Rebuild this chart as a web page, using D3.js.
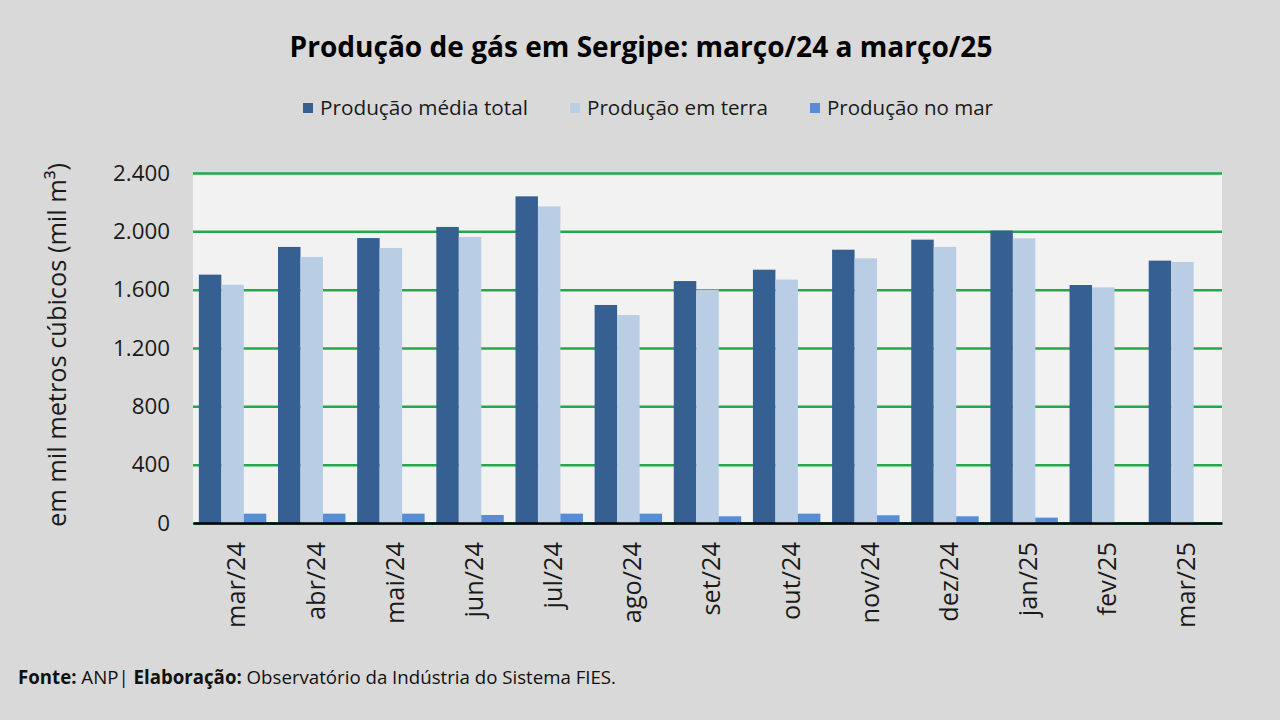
<!DOCTYPE html>
<html>
<head>
<meta charset="utf-8">
<script src="https://cdn.jsdelivr.net/npm/d3@7"></script>
<style>
  body { margin: 0; background: #d9d9d9; }
  svg { display: block; font-family: "Open Sans", "Noto Sans", sans-serif; }
</style>
</head>
<body>
<div id="chart"></div>
<script>
// dados (mil m³/dia)
var meses = ["mar/24","abr/24","mai/24","jun/24","jul/24","ago/24","set/24","out/24","nov/24","dez/24","jan/25","fev/25","mar/25"];
var producaoTotal = [1703,1893,1954,2030,2240,1495,1659,1737,1874,1943,2005,1632,1799];
var producaoTerra = [1634,1824,1886,1961,2171,1426,1600,1669,1815,1893,1952,1616,1790];
var producaoMar   = [64,64,64,55,64,64,46,64,53,46,37,null,null];
var series = ["Produção média total","Produção em terra","Produção no mar"];
var cores = ["#366092","#b9cde5","#558ed5"];
var yTicks = [0,400,800,1200,1600,2000,2400];

var width = 1280, height = 720;
var plot = {left:193, right:1222, top:173, bottom:523};

var locale = d3.formatLocale({decimal:",", thousands:".", grouping:[3], currency:["R$",""]});
var fmt = locale.format(",.0f");

var svg = d3.select('#chart').append('svg')
  .attr('width', width)
  .attr('height', height);

svg.append('rect').attr('width', width).attr('height', height).attr('fill', '#d9d9d9');

// encolhe/aumenta a fonte até o texto ocupar a largura desejada
function ajustar(t, larg){
  var w = t.node().getComputedTextLength();
  var fs = parseFloat(t.attr('font-size'));
  t.attr('font-size', (fs*larg/w).toFixed(2));
}
// mesmo fator para um grupo inteiro, medido no primeiro texto
function ajustarGrupo(sel, larg){
  var w = sel.node().getComputedTextLength();
  var fs = parseFloat(sel.attr('font-size'));
  sel.attr('font-size', (fs*larg/w).toFixed(2));
}

var titulo = svg.append('text')
  .attr('x', 641).attr('y', 57)
  .attr('text-anchor', 'middle')
  .attr('font-size', 26).attr('font-weight', 'bold')
  .attr('fill', '#000')
  .text('Produção de gás em Sergipe: março/24 a março/25');
ajustar(titulo, 703);

// legenda
var legX = [303, 570, 810];
var legW = [208, 181, 166];
var leg = svg.selectAll('.leg').data(series).enter().append('g').attr('class','leg')
  .attr('transform', function(d,i){ return 'translate(' + legX[i] + ',108)'; });
leg.append('rect').attr('x',0).attr('y',-5).attr('width',10).attr('height',10)
  .attr('fill', function(d,i){ return cores[i]; });
leg.append('text').attr('x',17).attr('y',0).attr('dy','0.35em')
  .attr('font-size',19).attr('fill','#1a1a1a')
  .text(function(d){ return d; })
  .each(function(d,i){ ajustar(d3.select(this), legW[i]); });

var x = d3.scaleBand().domain(meses)
  .range([plot.left, plot.right])
  .paddingInner(0.148).paddingOuter(0.074);
var xs = d3.scaleBand().domain(d3.range(3)).range([0, x.bandwidth()]);
var y = d3.scaleLinear().domain([0,2400]).range([plot.bottom, plot.top]);

svg.append('rect')
  .attr('x', plot.left).attr('y', plot.top)
  .attr('width', plot.right-plot.left).attr('height', plot.bottom-plot.top)
  .attr('fill', '#f2f2f2');

// linhas de grade
svg.append('g')
  .attr('transform', 'translate(' + plot.left + ',0)')
  .call(d3.axisLeft(y).tickValues(yTicks).tickSize(-(plot.right-plot.left)).tickFormat(''))
  .call(function(g){
    g.select('.domain').remove();
    g.selectAll('line').attr('stroke','#22a84b').attr('stroke-width',2.5);
  });

// barras
var linhas = meses.map(function(m,i){ return [producaoTotal[i], producaoTerra[i], producaoMar[i]]; });
var grupos = svg.selectAll('.grupo').data(linhas).enter().append('g')
  .attr('class','grupo')
  .attr('transform', function(d,i){ return 'translate(' + x(meses[i]) + ',0)'; });
grupos.selectAll('rect').data(function(d){ return d; }).enter()
  .filter(function(d){ return d != null; })
  .append('rect')
  .attr('x', function(d,j){ return xs(j); })
  .attr('width', xs.bandwidth())
  .attr('y', function(d){ return y(d); })
  .attr('height', function(d){ return y(0) - y(d); })
  .attr('fill', function(d,j){ return cores[j]; });

// eixo y
var gy = svg.append('g')
  .attr('transform', 'translate(' + plot.left + ',0)')
  .call(d3.axisLeft(y).tickValues(yTicks).tickSize(0).tickPadding(23).tickFormat(fmt))
  .call(function(g){
    g.select('.domain').remove();
    g.selectAll('text').attr('font-size',21).attr('fill','#1a1a1a')
      .attr('font-family','"Open Sans", sans-serif');
  });
var yTxt = gy.selectAll('text');
var fy = 57 / yTxt.filter(function(d){ return d === 2400; }).node().getComputedTextLength();
yTxt.attr('font-size', (21*fy).toFixed(2));

// eixo x
var gx = svg.append('g')
  .attr('transform', 'translate(0,' + plot.bottom + ')')
  .call(d3.axisBottom(x).tickSize(0).tickPadding(0))
  .call(function(g){
    g.select('.domain').attr('stroke','#000').attr('stroke-width',2.5);
    g.selectAll('text')
      .attr('font-size',21).attr('fill','#1a1a1a')
      .attr('font-family','"Open Sans", sans-serif')
      .attr('text-anchor','end')
      .attr('transform','rotate(-90)')
      .attr('x',-19).attr('y',4).attr('dy','0.35em');
  });
var xTxt = gx.selectAll('text');
var fx = 86 / xTxt.node().getComputedTextLength();
xTxt.attr('font-size', (21*fx).toFixed(2));

var tituloY = svg.append('text')
  .attr('transform','translate(57,345) rotate(-90)')
  .attr('text-anchor','middle').attr('dy','0.35em')
  .attr('font-size',21).attr('fill','#1a1a1a')
  .text('em mil metros cúbicos (mil m³)');
ajustar(tituloY, 364);

// rodapé
var rod = svg.append('text').attr('x',18).attr('y',684).attr('font-size',17).attr('fill','#111');
rod.append('tspan').attr('font-weight','bold').text('Fonte:');
rod.append('tspan').text('  ANP| ');
rod.append('tspan').attr('font-weight','bold').text('Elaboração:');
rod.append('tspan').text(' Observatório da Indústria do Sistema FIES.');
ajustar(rod, 598);
</script>
</body>
</html>
